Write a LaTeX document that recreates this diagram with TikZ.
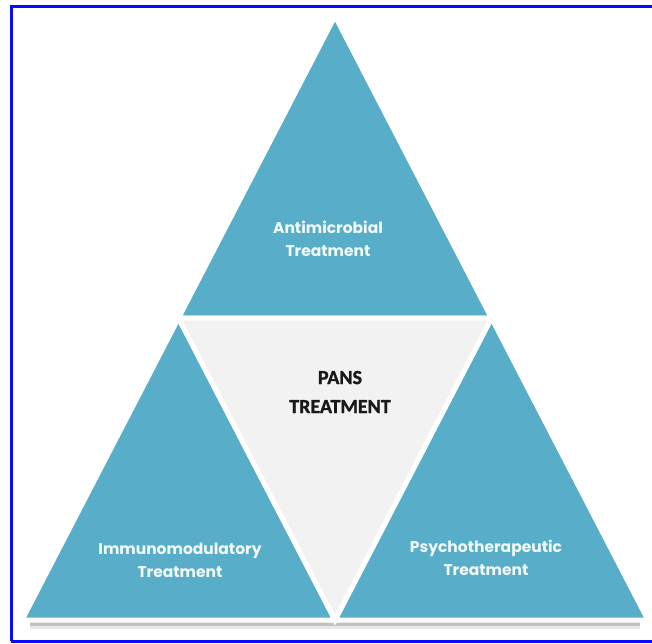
\documentclass[tikz,border=0pt]{standalone}
\usepackage{fontspec}
\setmainfont{Carlito}[BoldFeatures={FakeBold=1.2}]
\newfontfamily\sidefont{Poppins}
\usetikzlibrary{positioning}
\definecolor{pansblue}{RGB}{88,174,200}
\definecolor{pansgray}{RGB}{242,242,242}
\definecolor{framecol}{RGB}{10,10,250}

\tikzset{
  part/.style={fill=pansblue, draw=white, line width=5pt, line join=miter},
  centre/.style={fill=pansgray, draw=white, line width=5pt, line join=miter},
  sidetext/.style={text=white!92!pansblue, align=center, font=\sidefont\bfseries\fontsize{15.5}{23}\selectfont},
  maintext/.style={text=black!90, align=center, font=\bfseries\fontsize{20}{29}\selectfont}
}

\begin{document}
\begin{tikzpicture}[x=1pt,y=-1pt]
    \useasboundingbox (0,0) rectangle (652,643);
    \clip (0,0) rectangle (652,643);

    % corners of the big triangle and the middle points
    \coordinate (top) at (335,16);
    \coordinate (bl) at (22,620);
    \coordinate (br) at (648,620);
    \coordinate (ml) at (178.5,318);
    \coordinate (mr) at (491.5,318);
    \coordinate (mb) at (335,620);

    % soft shadow under the base
    \fill[black!40, opacity=0.6] (30,621) rectangle (640,626);
    \fill[black!15, opacity=0.6] (30,626) rectangle (640,629);

    \draw[part] (top) -- (ml) -- (mr) -- cycle;
    \draw[part] (ml) -- (bl) -- (mb) -- cycle;
    \draw[part] (mr) -- (mb) -- (br) -- cycle;
    \draw[centre] (ml) -- (mr) -- (mb) -- cycle;

    \node[sidetext] (anti) at (328,239) {Antimicrobial\\Treatment};
    \node[sidetext] (immuno) at (180,560) {Immunomodulatory\\Treatment};
    \node[sidetext] (psycho) at (486,558) {Psychotherapeutic\\Treatment};
    \node[maintext] (pans) at (340,392) {PANS\\TREATMENT};

    % frame
    \draw[framecol, line width=3pt] (11,641) -- (11,6) -- (670,6);
    \draw[framecol, line width=3pt] (11,641) -- (670,641);
\end{tikzpicture}
\end{document}
